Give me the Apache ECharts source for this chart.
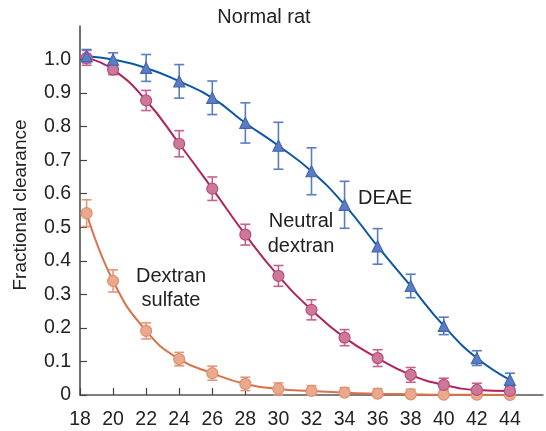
<!DOCTYPE html>
<html><head><meta charset="utf-8">
<script src="https://cdn.jsdelivr.net/npm/echarts@6/dist/echarts.min.js"></script>
<style>html,body{margin:0;padding:0;background:#fff;}#c{width:546px;height:431px;}</style>
</head><body><div id="c"></div>
<script>
const xValues = [18.4, 20, 22, 24, 26, 28, 30, 32, 34, 36, 38, 40, 42, 44];
const deae = [1.01, 1.00, 0.975, 0.935, 0.886, 0.811, 0.743, 0.667, 0.567, 0.443, 0.325, 0.206, 0.11, 0.045];
const deaeErr = [0.02, 0.02, 0.04, 0.05, 0.05, 0.06, 0.07, 0.07, 0.07, 0.053, 0.035, 0.026, 0.022, 0.02];
const neutral = [1.005, 0.97, 0.878, 0.749, 0.615, 0.478, 0.355, 0.254, 0.171, 0.11, 0.06, 0.03, 0.015, 0.012];
const neutralErr = [0.022, 0.015, 0.03, 0.039, 0.035, 0.031, 0.031, 0.03, 0.024, 0.025, 0.022, 0.02, 0.02, 0.02];
const sulfate = [0.542, 0.34, 0.191, 0.107, 0.065, 0.033, 0.018, 0.012, 0.007, 0.004, 0.002, 0.001, 0.001, 0.0];
const sulfateErr = [0.04, 0.033, 0.024, 0.02, 0.021, 0.02, 0.018, 0.016, 0.015, 0.015, 0.015, 0.015, 0.015, 0.015];
const xTicks = [18, 20, 22, 24, 26, 28, 30, 32, 34, 36, 38, 40, 42, 44];
const yTickValues = [0, 0.1, 0.2, 0.3, 0.4, 0.5, 0.6, 0.7, 0.8, 0.9, 1.0];
const yTicks = ['0', '0.1', '0.2', '0.3', '0.4', '0.5', '0.6', '0.7', '0.8', '0.9', '1.0'];

const FONT = '"Liberation Sans", Arial, Helvetica, sans-serif';
const chart = echarts.init(document.getElementById('c'), null, {renderer: 'canvas'});

function pts(ys) { return xValues.map((x, i) => [x, ys[i]]); }
function errData(ys, es) { return xValues.map((x, i) => [x, Math.max(0, ys[i] - es[i]), ys[i] + es[i]]); }
function errSeries(ys, es, color) {
  return {
    type: 'custom', data: errData(ys, es), z: 3, silent: true,
    renderItem: function (params, api) {
      const x = api.value(0);
      const lo = api.coord([x, api.value(1)]);
      const hi = api.coord([x, api.value(2)]);
      const w = 5;
      const st = {stroke: color, lineWidth: 1.6};
      return {type: 'group', children: [
        {type: 'line', shape: {x1: lo[0], y1: lo[1], x2: hi[0], y2: hi[1]}, style: st},
        {type: 'line', shape: {x1: lo[0] - w, y1: lo[1], x2: lo[0] + w, y2: lo[1]}, style: st},
        {type: 'line', shape: {x1: hi[0] - w, y1: hi[1], x2: hi[0] + w, y2: hi[1]}, style: st}
      ]};
    }
  };
}
function lineSeries(ys, lineColor, fill, border, symbol, size) {
  return {
    type: 'line', data: pts(ys), smooth: 0.5,
    symbol: symbol, symbolSize: size, showAllSymbol: true, z: 4,
    lineStyle: {color: lineColor, width: 2},
    itemStyle: {color: fill, borderColor: border, borderWidth: 1.2}
  };
}

chart.setOption({
  animation: false,
  backgroundColor: '#fff',
  textStyle: {fontFamily: FONT},
  grid: {left: 80, right: 0, top: 26, bottom: 36},
  xAxis: {
    type: 'value', min: 18, max: 46, interval: 2,
    axisLine: {lineStyle: {color: '#555', width: 1.5}},
    axisTick: {inside: true, length: 7, customValues: xTicks, lineStyle: {color: '#444', width: 1.2}},
    splitLine: {show: false},
    axisLabel: {color: '#222', fontSize: 19.5, margin: 15, fontFamily: FONT,
      formatter: v => (xTicks.indexOf(Math.round(v)) >= 0 ? String(Math.round(v)) : '')}
  },
  yAxis: {
    type: 'value', min: 0, max: 1.1, interval: 0.1,
    axisLine: {show: true, lineStyle: {color: '#444', width: 1.5}},
    axisTick: {show: true, inside: true, length: 7, customValues: yTickValues, lineStyle: {color: '#444', width: 1.2}},
    splitLine: {show: false},
    axisLabel: {color: '#222', fontSize: 19.5, margin: 9, fontFamily: FONT,
      formatter: v => { const i = Math.round(v * 10); return i < yTicks.length ? yTicks[i] : ''; }}
  },
  graphic: [
    {type: 'text', x: 264, y: 17, style: {text: 'Normal rat', font: '20px ' + FONT, fill: '#222', textAlign: 'center', textVerticalAlign: 'middle'}},
    {type: 'text', x: 21, y: 205, rotation: Math.PI / 2, style: {text: 'Fractional clearance', font: '19px ' + FONT, fill: '#222', textAlign: 'center', textVerticalAlign: 'middle'}},
    {type: 'text', x: 358, y: 198, style: {text: 'DEAE', font: '20px ' + FONT, fill: '#222', textAlign: 'left', textVerticalAlign: 'middle'}},
    {type: 'text', x: 301, y: 221, style: {text: 'Neutral', font: '20px ' + FONT, fill: '#222', textAlign: 'center', textVerticalAlign: 'middle'}},
    {type: 'text', x: 301, y: 246, style: {text: 'dextran', font: '20px ' + FONT, fill: '#222', textAlign: 'center', textVerticalAlign: 'middle'}},
    {type: 'text', x: 171, y: 276, style: {text: 'Dextran', font: '20px ' + FONT, fill: '#222', textAlign: 'center', textVerticalAlign: 'middle'}},
    {type: 'text', x: 171, y: 300, style: {text: 'sulfate', font: '20px ' + FONT, fill: '#222', textAlign: 'center', textVerticalAlign: 'middle'}}
  ],
  series: [
    errSeries(sulfate, sulfateErr, '#e4967a'),
    lineSeries(sulfate, '#d9714a', '#eaa98c', '#e08f6e', 'circle', 11),
    errSeries(neutral, neutralErr, '#c8618a'),
    lineSeries(neutral, '#b0235c', '#cd7898', '#b5507c', 'circle', 11),
    errSeries(deae, deaeErr, '#5a7cc4'),
    lineSeries(deae, '#0a57a6', '#5b7dc4', '#4565b0', 'triangle', 11)
  ]
});
</script>
</body></html>
